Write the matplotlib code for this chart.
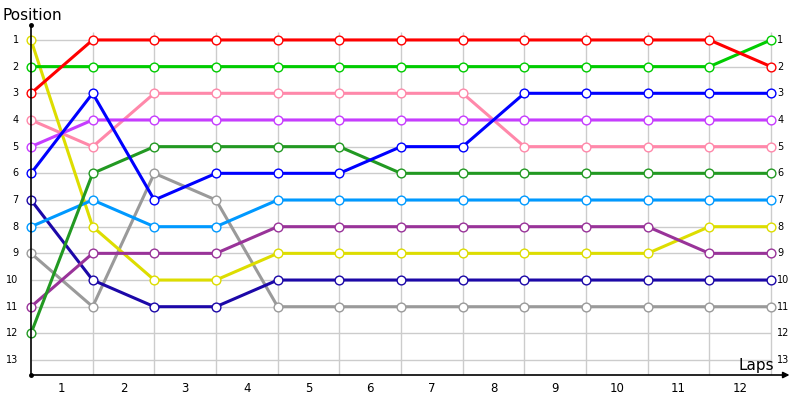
import matplotlib.pyplot as plt

laps = list(range(13))
positions = list(range(1, 14))
lap_labels = [str(i) for i in range(1, 13)]

red = [3, 1, 1, 1, 1, 1, 1, 1, 1, 1, 1, 1, 2]
green = [2, 2, 2, 2, 2, 2, 2, 2, 2, 2, 2, 2, 1]
blue = [6, 3, 7, 6, 6, 6, 5, 5, 3, 3, 3, 3, 3]
violet = [5, 4, 4, 4, 4, 4, 4, 4, 4, 4, 4, 4, 4]
pink = [4, 5, 3, 3, 3, 3, 3, 3, 5, 5, 5, 5, 5]
dark_green = [12, 6, 5, 5, 5, 5, 6, 6, 6, 6, 6, 6, 6]
light_blue = [8, 7, 8, 8, 7, 7, 7, 7, 7, 7, 7, 7, 7]
plum = [11, 9, 9, 9, 8, 8, 8, 8, 8, 8, 8, 9, 9]
yellow = [1, 8, 10, 10, 9, 9, 9, 9, 9, 9, 9, 8, 8]
navy = [7, 10, 11, 11, 10, 10, 10, 10, 10, 10, 10, 10, 10]
grey = [9, 11, 6, 7, 11, 11, 11, 11, 11, 11, 11, 11, 11]

series = [
    (grey, '#9a9a9a'),
    (navy, '#1c08a8'),
    (yellow, '#dddd00'),
    (plum, '#993399'),
    (light_blue, '#0099ff'),
    (dark_green, '#229922'),
    (pink, '#ff88aa'),
    (violet, '#c63cff'),
    (blue, '#0000ff'),
    (green, '#00cc00'),
    (red, '#ff0000'),
]

fig = plt.figure(figsize=(8, 4), dpi=100)
ax = fig.add_axes([0.03875, 0.0625, 0.952, 0.875])
ax.set_xlim(0, 12.35)
ax.set_ylim(13.56, 0.44)

# grid
ax.hlines(positions, 0, 12, color='#cccccc', lw=1, zorder=1)
ax.vlines(laps[1:], 13.56, 0.7, color='#cccccc', lw=1, zorder=1)

for vals, col in series:
    ax.plot(laps, vals, color=col, lw=2.2, marker='o', ms=6.3,
            mfc='white', mec=col, mew=1, zorder=3, clip_on=False)

# axes lines
ax.plot([0, 0], [13.56, 0.44], color='black', lw=1.2, zorder=4, clip_on=False)
ax.plot([0, 0], [0.44, 13.56], 'o', color='black', ms=2.5, zorder=4, clip_on=False)
ax.annotate('', xy=(12.3, 13.56), xytext=(0, 13.56),
            arrowprops=dict(arrowstyle='-|>', color='black', lw=1.2,
                            mutation_scale=9, shrinkA=0, shrinkB=0),
            annotation_clip=False, zorder=4)

for s in ax.spines.values():
    s.set_visible(False)
ax.set_xticks([])
ax.set_yticks([])

for p in positions:
    ax.text(-0.2, p, str(p), ha='right', va='center', fontsize=7)
    ax.text(12.1, p, str(p), ha='left', va='center', fontsize=7)
for i, lab in enumerate(lap_labels):
    ax.text(i + 0.5, 14.05, lab, ha='center', va='center', fontsize=8.5)

fig.text(0.003, 0.962, 'Position', fontsize=11, ha='left', va='center')
ax.text(12.05, 13.2, 'Laps', fontsize=11, ha='right', va='center')

fig.savefig('out.png', dpi=100)
